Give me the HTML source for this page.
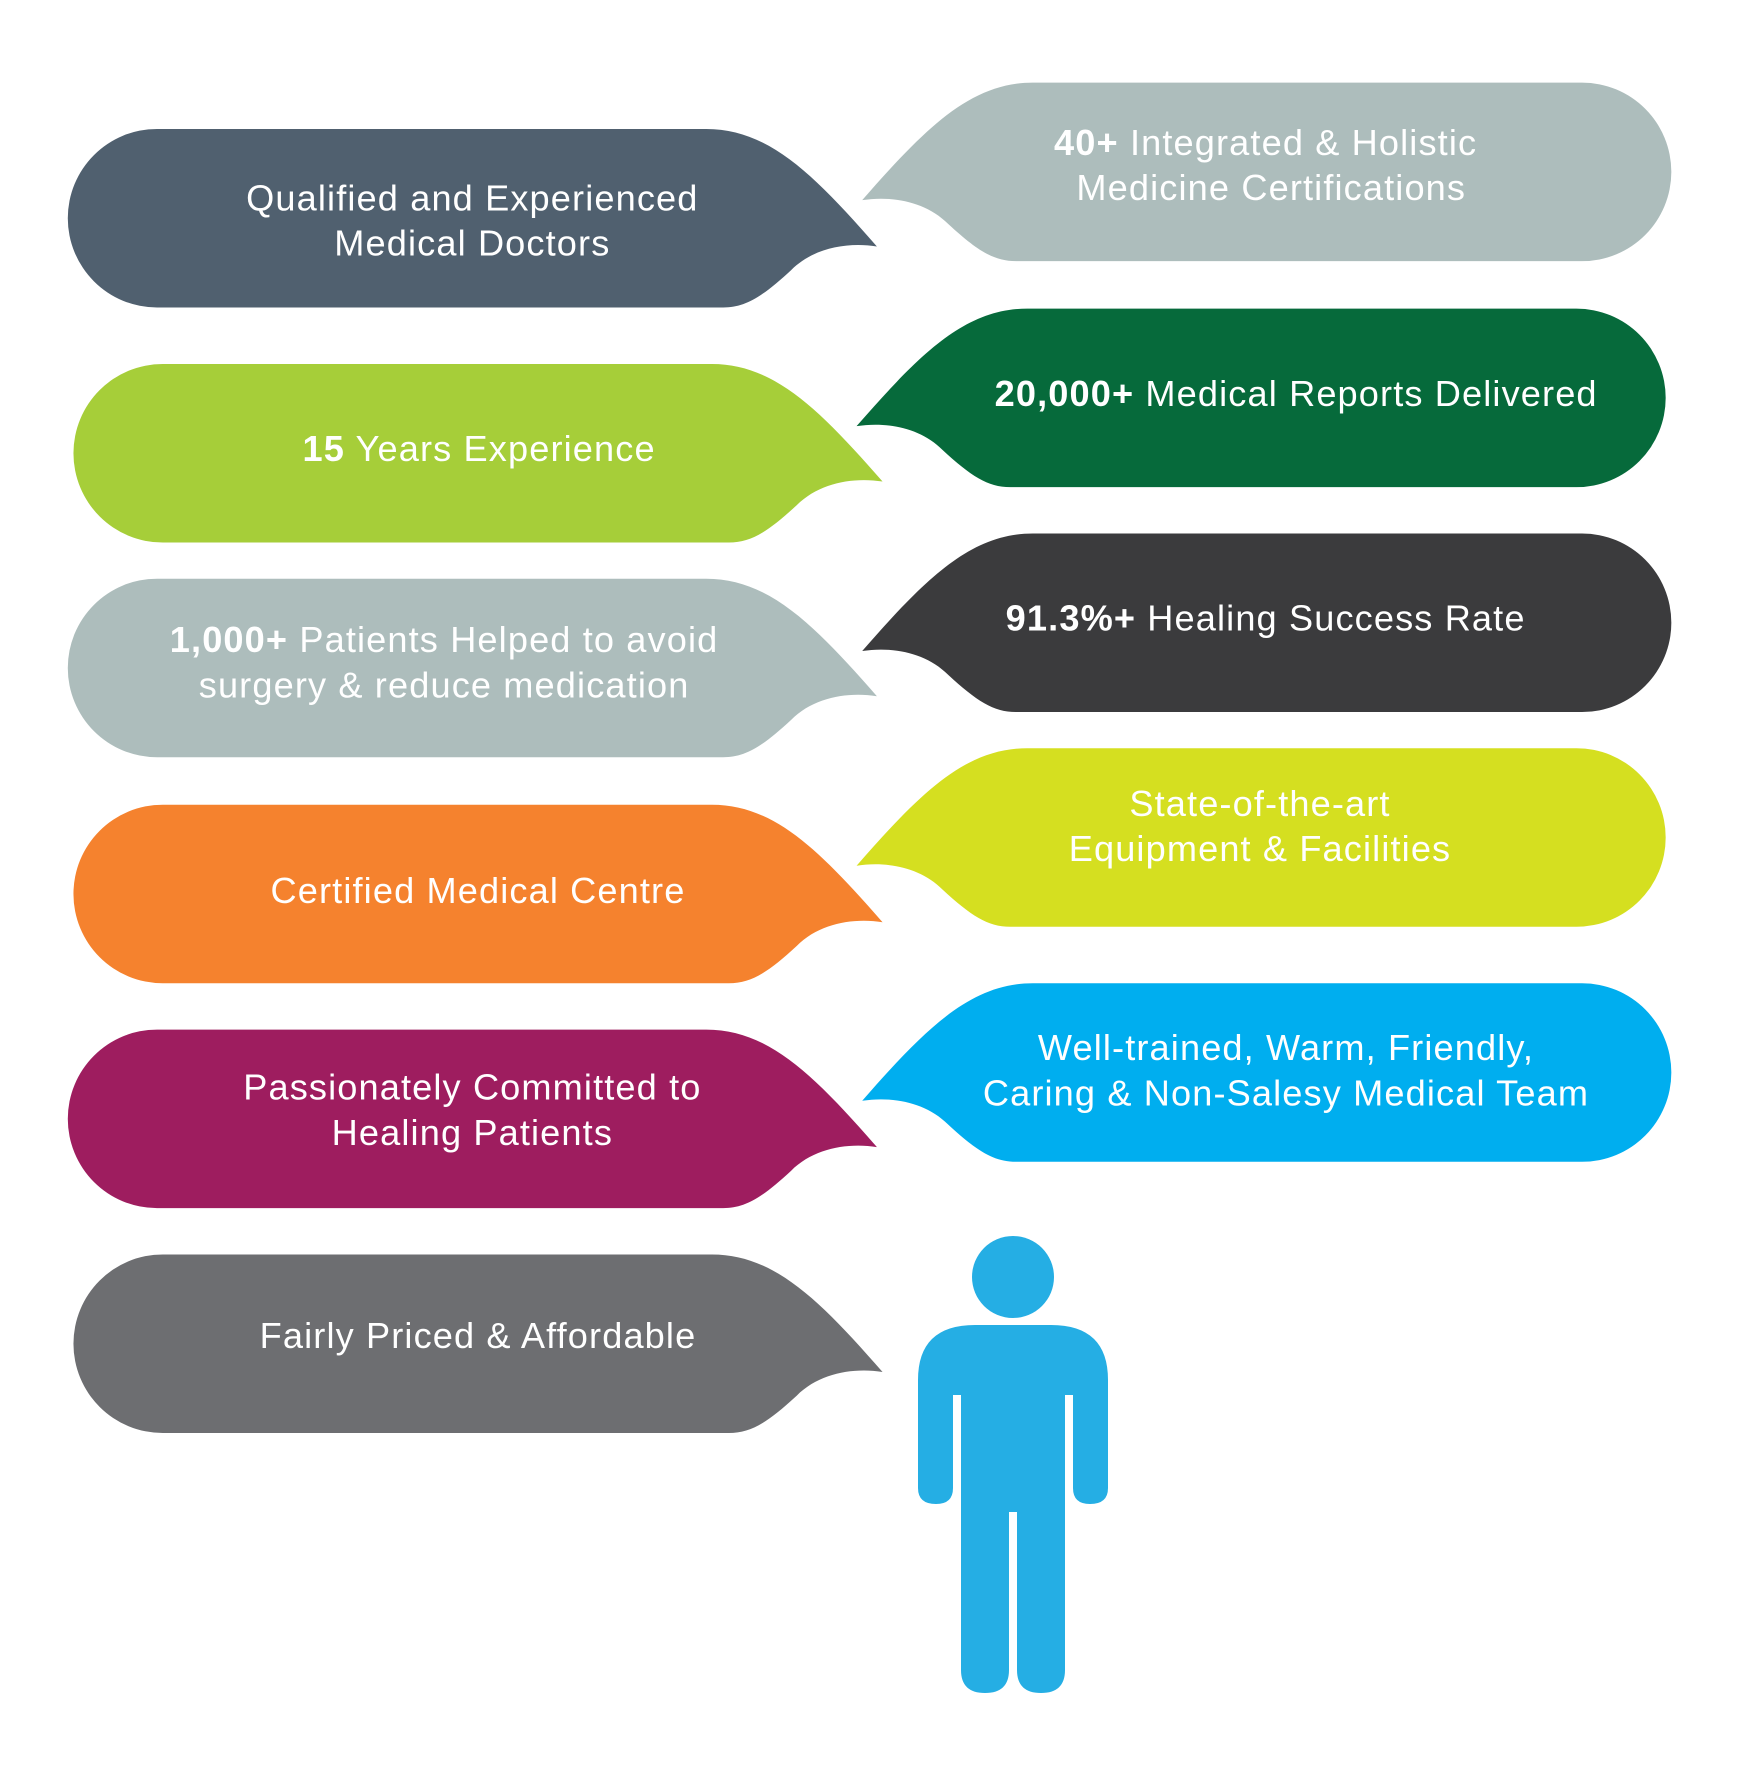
<!DOCTYPE html>
<html><head><meta charset="utf-8"><style>
html,body{margin:0;padding:0;background:#fff;}
.wrap{position:relative;width:1738px;height:1771px;overflow:hidden;}
svg{position:absolute;left:0;top:0;}
text{font-family:"Liberation Sans",sans-serif;font-size:32px;letter-spacing:1px;fill:#fff;text-anchor:middle;}
.b{font-weight:bold;}
</style></head><body><div class="wrap">
<svg width="1738" height="1771" viewBox="0 0 1538 1567">
<defs>
<path id="lb" d="M79,0 H565 C620,0 660,40 716,104 C690,100 660,105 640,125 C615,148 600,158 580,158 H79 A79,79 0 0 1 79,0 Z"/>
</defs>
<use href="#lb" transform="translate(60,114)" fill="#50606f"/>
<use href="#lb" transform="translate(65,322)" fill="#a6ce39"/>
<use href="#lb" transform="translate(60,512)" fill="#adbdbc"/>
<use href="#lb" transform="translate(65,712)" fill="#f5822e"/>
<use href="#lb" transform="translate(60,911)" fill="#9e1d5f"/>
<use href="#lb" transform="translate(65,1110)" fill="#6d6e71"/>
<use href="#lb" transform="translate(1479,73) scale(-1,1)" fill="#adbdbc"/>
<use href="#lb" transform="translate(1474,273) scale(-1,1)" fill="#066a3b"/>
<use href="#lb" transform="translate(1479,472) scale(-1,1)" fill="#3b3b3d"/>
<use href="#lb" transform="translate(1474,662) scale(-1,1)" fill="#d5df20"/>
<use href="#lb" transform="translate(1479,870) scale(-1,1)" fill="#00aeef"/>

<text x="418" y="186">Qualified and Experienced</text>
<text x="418" y="226">Medical Doctors</text>
<text x="424" y="408"><tspan class="b">15</tspan> Years Experience</text>
<text x="393" y="577"><tspan class="b">1,000+</tspan> Patients Helped to avoid</text>
<text x="393" y="617">surgery &amp; reduce medication</text>
<text x="423" y="799">Certified Medical Centre</text>
<text x="418" y="973">Passionately Committed to</text>
<text x="418" y="1013">Healing Patients</text>
<text x="423" y="1193">Fairly Priced &amp; Affordable</text>

<text x="1120" y="137"><tspan class="b">40+</tspan> Integrated &amp; Holistic</text>
<text x="1125" y="177">Medicine Certifications</text>
<text x="1147" y="359"><tspan class="b">20,000+</tspan> Medical Reports Delivered</text>
<text x="1120" y="558"><tspan class="b">91.3%+</tspan> Healing Success Rate</text>
<text x="1115" y="722">State-of-the-art</text>
<text x="1115" y="762">Equipment &amp; Facilities</text>
<text x="1138" y="938">Well-trained, Warm, Friendly,</text>
<text x="1138" y="978">Caring &amp; Non-Salesy Medical Team</text>
</svg>
<svg width="1738" height="1771" viewBox="0 0 1738 1771">
<g fill="#25aee4">
<circle cx="1013" cy="1277" r="41"/>
<path d="M918,1500 V1380 Q918,1325 975,1325 H1051 Q1108,1325 1108,1380 V1488 Q1108,1504 1090,1504 Q1073,1504 1073,1488 V1395 H1065 V1670 Q1065,1693 1041,1693 Q1017,1693 1017,1670 V1512 H1009 V1670 Q1009,1693 985,1693 Q961,1693 961,1670 V1395 H953 V1488 Q953,1504 936,1504 Q918,1504 918,1488 Z"/>
</g>
</svg>
</div></body></html>
